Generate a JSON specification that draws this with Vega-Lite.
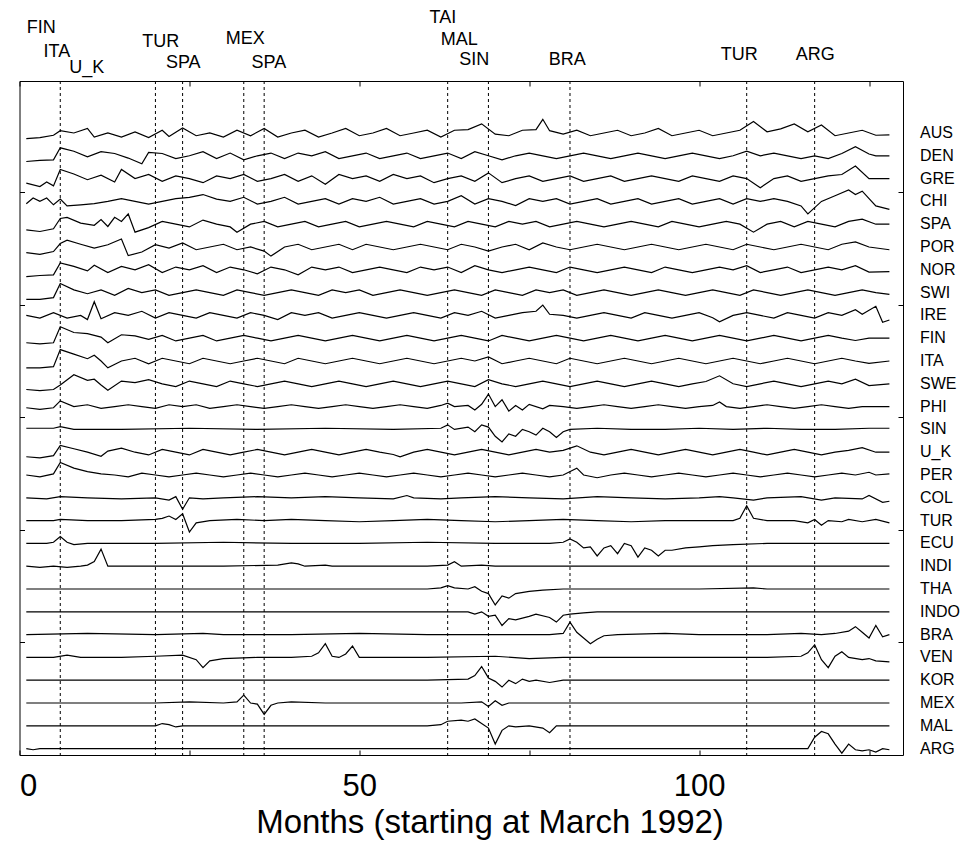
{
"$schema":"https://vega.github.io/schema/vega-lite/v6.json",
"width":883.5,"height":674,
"autosize":{"type":"none"},
"padding":{"left":19.5,"top":81,"right":71,"bottom":86},
"background":"white",
"config":{"view":{"stroke":"black","strokeWidth":1},"font":"Liberation Sans"},
"resolve":{"axis":{"x":"independent","y":"independent"}},
"datasets":{
"events":[{"m":6},{"m":20},{"m":24},{"m":33},{"m":36},{"m":63},{"m":69},{"m":81},{"m":107},{"m":117}],
"tags":[{"t":"FIN","m":3.2,"h":31.61},{"t":"ITA","m":5.5,"h":30.55},{"t":"U_K","m":9.9,"h":29.85},{"t":"TUR","m":20.8,"h":30.99},{"t":"SPA","m":24.1,"h":30.07},{"t":"MEX","m":33.2,"h":31.12},{"t":"SPA","m":36.7,"h":30.07},{"t":"TAI","m":62.3,"h":32.04},{"t":"MAL","m":64.7,"h":31.08},{"t":"SIN","m":66.9,"h":30.2},{"t":"BRA","m":80.6,"h":30.2},{"t":"TUR","m":105.9,"h":30.42},{"t":"ARG","m":117.1,"h":30.42}],
"rows":[{"c":"AUS","r":27},{"c":"DEN","r":26},{"c":"GRE","r":25},{"c":"CHI","r":24},{"c":"SPA","r":23},{"c":"POR","r":22},{"c":"NOR","r":21},{"c":"SWI","r":20},{"c":"IRE","r":19},{"c":"FIN","r":18},{"c":"ITA","r":17},{"c":"SWE","r":16},{"c":"PHI","r":15},{"c":"SIN","r":14},{"c":"U_K","r":13},{"c":"PER","r":12},{"c":"COL","r":11},{"c":"TUR","r":10},{"c":"ECU","r":9},{"c":"INDI","r":8},{"c":"THA","r":7},{"c":"INDO","r":6},{"c":"BRA","r":5},{"c":"VEN","r":4},{"c":"KOR","r":3},{"c":"MEX","r":2},{"c":"MAL","r":1},{"c":"ARG","r":0}],
"series":[
{"c":"AUS","m":1,"v":26.75},{"c":"AUS","m":3,"v":26.8},{"c":"AUS","m":5,"v":26.9},{"c":"AUS","m":6,"v":27.1},{"c":"AUS","m":8,"v":27.0},{"c":"AUS","m":10,"v":27.2},{"c":"AUS","m":11,"v":26.82},{"c":"AUS","m":13,"v":27.0},{"c":"AUS","m":15,"v":26.82},{"c":"AUS","m":17,"v":27.05},{"c":"AUS","m":19,"v":26.8},{"c":"AUS","m":21,"v":27.12},{"c":"AUS","m":22,"v":26.85},{"c":"AUS","m":24,"v":27.22},{"c":"AUS","m":26,"v":26.88},{"c":"AUS","m":28,"v":27.0},{"c":"AUS","m":30,"v":26.82},{"c":"AUS","m":32,"v":27.12},{"c":"AUS","m":34,"v":26.88},{"c":"AUS","m":36,"v":27.2},{"c":"AUS","m":38,"v":26.82},{"c":"AUS","m":40,"v":27.0},{"c":"AUS","m":42,"v":27.12},{"c":"AUS","m":44,"v":26.82},{"c":"AUS","m":46,"v":27.0},{"c":"AUS","m":48,"v":27.2},{"c":"AUS","m":50,"v":26.88},{"c":"AUS","m":52,"v":27.0},{"c":"AUS","m":54,"v":27.2},{"c":"AUS","m":56,"v":26.88},{"c":"AUS","m":58,"v":27.0},{"c":"AUS","m":60,"v":27.12},{"c":"AUS","m":62,"v":26.82},{"c":"AUS","m":64,"v":27.12},{"c":"AUS","m":66,"v":27.15},{"c":"AUS","m":68,"v":27.4},{"c":"AUS","m":70,"v":26.95},{"c":"AUS","m":72,"v":26.88},{"c":"AUS","m":74,"v":27.12},{"c":"AUS","m":76,"v":27.15},{"c":"AUS","m":77,"v":27.6},{"c":"AUS","m":78,"v":27.1},{"c":"AUS","m":80,"v":26.95},{"c":"AUS","m":82,"v":27.12},{"c":"AUS","m":84,"v":26.88},{"c":"AUS","m":86,"v":27.0},{"c":"AUS","m":88,"v":27.12},{"c":"AUS","m":90,"v":26.88},{"c":"AUS","m":92,"v":27.0},{"c":"AUS","m":94,"v":27.2},{"c":"AUS","m":96,"v":26.88},{"c":"AUS","m":98,"v":27.0},{"c":"AUS","m":100,"v":27.12},{"c":"AUS","m":102,"v":26.88},{"c":"AUS","m":104,"v":27.0},{"c":"AUS","m":106,"v":27.12},{"c":"AUS","m":108,"v":27.5},{"c":"AUS","m":110,"v":27.05},{"c":"AUS","m":112,"v":27.18},{"c":"AUS","m":114,"v":27.4},{"c":"AUS","m":116,"v":27.05},{"c":"AUS","m":118,"v":27.35},{"c":"AUS","m":120,"v":26.88},{"c":"AUS","m":122,"v":27.0},{"c":"AUS","m":124,"v":27.12},{"c":"AUS","m":126,"v":26.9},{"c":"AUS","m":128,"v":26.92},
{"c":"DEN","m":1,"v":25.75},{"c":"DEN","m":3,"v":25.8},{"c":"DEN","m":5,"v":25.82},{"c":"DEN","m":6,"v":26.35},{"c":"DEN","m":8,"v":26.2},{"c":"DEN","m":10,"v":25.95},{"c":"DEN","m":12,"v":26.18},{"c":"DEN","m":14,"v":26.1},{"c":"DEN","m":16,"v":25.9},{"c":"DEN","m":18,"v":25.65},{"c":"DEN","m":19,"v":26.15},{"c":"DEN","m":21,"v":26.1},{"c":"DEN","m":23,"v":25.88},{"c":"DEN","m":25,"v":26.0},{"c":"DEN","m":27,"v":26.18},{"c":"DEN","m":29,"v":25.88},{"c":"DEN","m":31,"v":26.12},{"c":"DEN","m":33,"v":25.82},{"c":"DEN","m":35,"v":26.0},{"c":"DEN","m":37,"v":26.12},{"c":"DEN","m":39,"v":25.88},{"c":"DEN","m":41,"v":26.12},{"c":"DEN","m":43,"v":26.0},{"c":"DEN","m":45,"v":26.18},{"c":"DEN","m":47,"v":25.88},{"c":"DEN","m":49,"v":26.0},{"c":"DEN","m":51,"v":26.12},{"c":"DEN","m":53,"v":25.88},{"c":"DEN","m":55,"v":26.0},{"c":"DEN","m":57,"v":26.12},{"c":"DEN","m":59,"v":25.88},{"c":"DEN","m":61,"v":26.0},{"c":"DEN","m":63,"v":26.12},{"c":"DEN","m":65,"v":25.88},{"c":"DEN","m":67,"v":26.18},{"c":"DEN","m":69,"v":26.0},{"c":"DEN","m":71,"v":25.82},{"c":"DEN","m":73,"v":26.0},{"c":"DEN","m":75,"v":26.12},{"c":"DEN","m":77,"v":26.0},{"c":"DEN","m":79,"v":25.88},{"c":"DEN","m":81,"v":26.0},{"c":"DEN","m":83,"v":26.12},{"c":"DEN","m":85,"v":26.0},{"c":"DEN","m":87,"v":25.88},{"c":"DEN","m":89,"v":26.0},{"c":"DEN","m":91,"v":26.12},{"c":"DEN","m":93,"v":26.0},{"c":"DEN","m":95,"v":25.88},{"c":"DEN","m":97,"v":26.0},{"c":"DEN","m":99,"v":26.12},{"c":"DEN","m":101,"v":26.0},{"c":"DEN","m":103,"v":25.88},{"c":"DEN","m":105,"v":26.0},{"c":"DEN","m":107,"v":26.2},{"c":"DEN","m":109,"v":26.0},{"c":"DEN","m":111,"v":26.12},{"c":"DEN","m":113,"v":26.0},{"c":"DEN","m":115,"v":25.88},{"c":"DEN","m":117,"v":26.0},{"c":"DEN","m":119,"v":25.88},{"c":"DEN","m":121,"v":26.1},{"c":"DEN","m":123,"v":26.4},{"c":"DEN","m":125,"v":26.08},{"c":"DEN","m":126,"v":26.0},{"c":"DEN","m":128,"v":26.0},
{"c":"GRE","m":1,"v":24.8},{"c":"GRE","m":3,"v":24.65},{"c":"GRE","m":4,"v":24.85},{"c":"GRE","m":5,"v":24.68},{"c":"GRE","m":6,"v":25.4},{"c":"GRE","m":8,"v":25.2},{"c":"GRE","m":10,"v":24.95},{"c":"GRE","m":12,"v":25.15},{"c":"GRE","m":14,"v":24.85},{"c":"GRE","m":15,"v":25.4},{"c":"GRE","m":17,"v":25.0},{"c":"GRE","m":19,"v":25.18},{"c":"GRE","m":21,"v":24.88},{"c":"GRE","m":23,"v":25.12},{"c":"GRE","m":25,"v":25.0},{"c":"GRE","m":27,"v":24.82},{"c":"GRE","m":29,"v":25.12},{"c":"GRE","m":31,"v":25.0},{"c":"GRE","m":33,"v":25.18},{"c":"GRE","m":35,"v":24.88},{"c":"GRE","m":37,"v":25.0},{"c":"GRE","m":39,"v":25.18},{"c":"GRE","m":41,"v":24.88},{"c":"GRE","m":43,"v":25.12},{"c":"GRE","m":45,"v":24.75},{"c":"GRE","m":47,"v":25.18},{"c":"GRE","m":49,"v":25.0},{"c":"GRE","m":51,"v":25.12},{"c":"GRE","m":53,"v":24.88},{"c":"GRE","m":55,"v":25.18},{"c":"GRE","m":57,"v":25.0},{"c":"GRE","m":59,"v":25.12},{"c":"GRE","m":61,"v":24.82},{"c":"GRE","m":63,"v":25.0},{"c":"GRE","m":65,"v":25.12},{"c":"GRE","m":67,"v":24.88},{"c":"GRE","m":69,"v":25.25},{"c":"GRE","m":71,"v":24.82},{"c":"GRE","m":73,"v":25.0},{"c":"GRE","m":75,"v":25.12},{"c":"GRE","m":77,"v":24.88},{"c":"GRE","m":79,"v":25.0},{"c":"GRE","m":81,"v":25.12},{"c":"GRE","m":83,"v":24.88},{"c":"GRE","m":85,"v":25.0},{"c":"GRE","m":87,"v":25.12},{"c":"GRE","m":89,"v":24.88},{"c":"GRE","m":91,"v":25.0},{"c":"GRE","m":93,"v":25.12},{"c":"GRE","m":95,"v":25.0},{"c":"GRE","m":97,"v":24.88},{"c":"GRE","m":99,"v":25.12},{"c":"GRE","m":101,"v":25.0},{"c":"GRE","m":103,"v":24.88},{"c":"GRE","m":105,"v":25.12},{"c":"GRE","m":107,"v":25.0},{"c":"GRE","m":109,"v":24.6},{"c":"GRE","m":111,"v":25.0},{"c":"GRE","m":113,"v":25.12},{"c":"GRE","m":115,"v":24.88},{"c":"GRE","m":117,"v":25.0},{"c":"GRE","m":119,"v":25.12},{"c":"GRE","m":121,"v":25.18},{"c":"GRE","m":123,"v":25.55},{"c":"GRE","m":125,"v":25.0},{"c":"GRE","m":126,"v":25.0},{"c":"GRE","m":128,"v":25.0},
{"c":"CHI","m":1,"v":23.9},{"c":"CHI","m":2,"v":24.15},{"c":"CHI","m":3,"v":24.0},{"c":"CHI","m":4,"v":24.15},{"c":"CHI","m":5,"v":23.85},{"c":"CHI","m":6,"v":24.1},{"c":"CHI","m":7,"v":23.8},{"c":"CHI","m":9,"v":23.85},{"c":"CHI","m":11,"v":23.9},{"c":"CHI","m":13,"v":24.0},{"c":"CHI","m":15,"v":24.12},{"c":"CHI","m":17,"v":24.0},{"c":"CHI","m":19,"v":23.88},{"c":"CHI","m":21,"v":24.0},{"c":"CHI","m":23,"v":24.12},{"c":"CHI","m":25,"v":24.18},{"c":"CHI","m":27,"v":24.3},{"c":"CHI","m":29,"v":24.1},{"c":"CHI","m":31,"v":24.0},{"c":"CHI","m":33,"v":24.18},{"c":"CHI","m":35,"v":23.88},{"c":"CHI","m":37,"v":24.0},{"c":"CHI","m":39,"v":24.18},{"c":"CHI","m":41,"v":23.88},{"c":"CHI","m":43,"v":24.0},{"c":"CHI","m":45,"v":24.12},{"c":"CHI","m":47,"v":23.88},{"c":"CHI","m":49,"v":24.12},{"c":"CHI","m":51,"v":24.0},{"c":"CHI","m":53,"v":24.18},{"c":"CHI","m":55,"v":23.88},{"c":"CHI","m":57,"v":24.0},{"c":"CHI","m":59,"v":24.12},{"c":"CHI","m":61,"v":23.88},{"c":"CHI","m":63,"v":24.0},{"c":"CHI","m":65,"v":24.25},{"c":"CHI","m":67,"v":23.88},{"c":"CHI","m":69,"v":24.12},{"c":"CHI","m":71,"v":24.0},{"c":"CHI","m":73,"v":23.82},{"c":"CHI","m":75,"v":24.12},{"c":"CHI","m":77,"v":24.0},{"c":"CHI","m":79,"v":24.12},{"c":"CHI","m":81,"v":23.88},{"c":"CHI","m":83,"v":24.0},{"c":"CHI","m":85,"v":24.12},{"c":"CHI","m":87,"v":23.88},{"c":"CHI","m":89,"v":24.0},{"c":"CHI","m":91,"v":24.12},{"c":"CHI","m":93,"v":23.88},{"c":"CHI","m":95,"v":24.0},{"c":"CHI","m":97,"v":24.12},{"c":"CHI","m":99,"v":23.88},{"c":"CHI","m":101,"v":24.0},{"c":"CHI","m":103,"v":24.12},{"c":"CHI","m":105,"v":23.88},{"c":"CHI","m":107,"v":24.12},{"c":"CHI","m":109,"v":24.0},{"c":"CHI","m":111,"v":24.12},{"c":"CHI","m":113,"v":24.0},{"c":"CHI","m":115,"v":23.8},{"c":"CHI","m":116,"v":23.45},{"c":"CHI","m":118,"v":24.0},{"c":"CHI","m":120,"v":24.25},{"c":"CHI","m":122,"v":24.5},{"c":"CHI","m":123,"v":24.3},{"c":"CHI","m":124,"v":24.45},{"c":"CHI","m":126,"v":23.8},{"c":"CHI","m":128,"v":23.65},
{"c":"SPA","m":1,"v":22.75},{"c":"SPA","m":3,"v":22.68},{"c":"SPA","m":5,"v":22.8},{"c":"SPA","m":6,"v":23.25},{"c":"SPA","m":7,"v":23.3},{"c":"SPA","m":9,"v":23.05},{"c":"SPA","m":11,"v":22.95},{"c":"SPA","m":12,"v":23.2},{"c":"SPA","m":13,"v":22.9},{"c":"SPA","m":14,"v":23.3},{"c":"SPA","m":15,"v":23.12},{"c":"SPA","m":16,"v":23.45},{"c":"SPA","m":17,"v":22.65},{"c":"SPA","m":19,"v":22.85},{"c":"SPA","m":21,"v":23.12},{"c":"SPA","m":23,"v":23.0},{"c":"SPA","m":25,"v":22.88},{"c":"SPA","m":27,"v":23.18},{"c":"SPA","m":29,"v":23.0},{"c":"SPA","m":31,"v":22.88},{"c":"SPA","m":32,"v":22.65},{"c":"SPA","m":34,"v":23.0},{"c":"SPA","m":36,"v":23.12},{"c":"SPA","m":38,"v":22.88},{"c":"SPA","m":40,"v":23.0},{"c":"SPA","m":42,"v":23.12},{"c":"SPA","m":44,"v":22.88},{"c":"SPA","m":46,"v":23.0},{"c":"SPA","m":48,"v":23.12},{"c":"SPA","m":50,"v":22.88},{"c":"SPA","m":52,"v":23.0},{"c":"SPA","m":54,"v":23.12},{"c":"SPA","m":56,"v":23.0},{"c":"SPA","m":58,"v":22.88},{"c":"SPA","m":60,"v":23.12},{"c":"SPA","m":62,"v":23.0},{"c":"SPA","m":64,"v":22.88},{"c":"SPA","m":66,"v":23.12},{"c":"SPA","m":68,"v":23.0},{"c":"SPA","m":70,"v":22.88},{"c":"SPA","m":72,"v":23.12},{"c":"SPA","m":74,"v":23.0},{"c":"SPA","m":76,"v":23.12},{"c":"SPA","m":78,"v":22.88},{"c":"SPA","m":80,"v":23.0},{"c":"SPA","m":82,"v":23.12},{"c":"SPA","m":84,"v":23.0},{"c":"SPA","m":86,"v":22.88},{"c":"SPA","m":88,"v":23.0},{"c":"SPA","m":90,"v":23.12},{"c":"SPA","m":92,"v":23.0},{"c":"SPA","m":94,"v":22.88},{"c":"SPA","m":96,"v":23.12},{"c":"SPA","m":98,"v":23.0},{"c":"SPA","m":100,"v":22.88},{"c":"SPA","m":102,"v":23.0},{"c":"SPA","m":104,"v":23.12},{"c":"SPA","m":106,"v":23.0},{"c":"SPA","m":108,"v":22.65},{"c":"SPA","m":110,"v":23.0},{"c":"SPA","m":112,"v":23.12},{"c":"SPA","m":114,"v":22.88},{"c":"SPA","m":116,"v":23.12},{"c":"SPA","m":118,"v":23.0},{"c":"SPA","m":120,"v":22.88},{"c":"SPA","m":122,"v":23.12},{"c":"SPA","m":124,"v":23.22},{"c":"SPA","m":126,"v":23.0},{"c":"SPA","m":128,"v":23.0},
{"c":"POR","m":1,"v":21.75},{"c":"POR","m":3,"v":21.68},{"c":"POR","m":5,"v":21.8},{"c":"POR","m":6,"v":22.15},{"c":"POR","m":7,"v":22.3},{"c":"POR","m":9,"v":22.12},{"c":"POR","m":11,"v":21.95},{"c":"POR","m":13,"v":22.1},{"c":"POR","m":15,"v":22.35},{"c":"POR","m":16,"v":21.62},{"c":"POR","m":18,"v":21.78},{"c":"POR","m":20,"v":22.1},{"c":"POR","m":22,"v":21.95},{"c":"POR","m":24,"v":22.18},{"c":"POR","m":26,"v":21.88},{"c":"POR","m":28,"v":22.0},{"c":"POR","m":30,"v":22.12},{"c":"POR","m":32,"v":21.88},{"c":"POR","m":34,"v":22.0},{"c":"POR","m":36,"v":21.82},{"c":"POR","m":37,"v":21.6},{"c":"POR","m":39,"v":22.0},{"c":"POR","m":41,"v":22.12},{"c":"POR","m":43,"v":21.88},{"c":"POR","m":45,"v":22.0},{"c":"POR","m":47,"v":22.12},{"c":"POR","m":49,"v":21.88},{"c":"POR","m":51,"v":22.12},{"c":"POR","m":53,"v":22.0},{"c":"POR","m":55,"v":21.88},{"c":"POR","m":57,"v":22.0},{"c":"POR","m":59,"v":22.12},{"c":"POR","m":61,"v":22.0},{"c":"POR","m":63,"v":21.88},{"c":"POR","m":65,"v":22.12},{"c":"POR","m":67,"v":22.0},{"c":"POR","m":69,"v":21.82},{"c":"POR","m":71,"v":22.0},{"c":"POR","m":73,"v":22.12},{"c":"POR","m":75,"v":21.88},{"c":"POR","m":77,"v":22.18},{"c":"POR","m":79,"v":22.0},{"c":"POR","m":81,"v":21.88},{"c":"POR","m":83,"v":22.0},{"c":"POR","m":85,"v":22.12},{"c":"POR","m":87,"v":22.0},{"c":"POR","m":89,"v":21.88},{"c":"POR","m":91,"v":22.0},{"c":"POR","m":93,"v":22.12},{"c":"POR","m":95,"v":22.0},{"c":"POR","m":97,"v":21.88},{"c":"POR","m":99,"v":22.0},{"c":"POR","m":101,"v":22.12},{"c":"POR","m":103,"v":22.0},{"c":"POR","m":105,"v":21.88},{"c":"POR","m":107,"v":22.12},{"c":"POR","m":109,"v":22.0},{"c":"POR","m":111,"v":21.88},{"c":"POR","m":113,"v":22.0},{"c":"POR","m":115,"v":22.12},{"c":"POR","m":117,"v":22.0},{"c":"POR","m":119,"v":21.88},{"c":"POR","m":121,"v":22.12},{"c":"POR","m":123,"v":22.22},{"c":"POR","m":125,"v":22.0},{"c":"POR","m":128,"v":21.88},
{"c":"NOR","m":1,"v":20.7},{"c":"NOR","m":3,"v":20.75},{"c":"NOR","m":5,"v":20.78},{"c":"NOR","m":6,"v":21.3},{"c":"NOR","m":8,"v":21.15},{"c":"NOR","m":10,"v":20.95},{"c":"NOR","m":11,"v":21.2},{"c":"NOR","m":13,"v":20.88},{"c":"NOR","m":15,"v":21.15},{"c":"NOR","m":17,"v":21.0},{"c":"NOR","m":19,"v":21.22},{"c":"NOR","m":21,"v":20.88},{"c":"NOR","m":23,"v":21.12},{"c":"NOR","m":25,"v":21.0},{"c":"NOR","m":27,"v":21.18},{"c":"NOR","m":29,"v":20.88},{"c":"NOR","m":31,"v":21.12},{"c":"NOR","m":33,"v":21.0},{"c":"NOR","m":35,"v":20.82},{"c":"NOR","m":37,"v":21.12},{"c":"NOR","m":39,"v":21.0},{"c":"NOR","m":41,"v":20.78},{"c":"NOR","m":43,"v":21.12},{"c":"NOR","m":45,"v":21.0},{"c":"NOR","m":47,"v":21.12},{"c":"NOR","m":49,"v":20.88},{"c":"NOR","m":51,"v":21.0},{"c":"NOR","m":53,"v":21.12},{"c":"NOR","m":55,"v":21.0},{"c":"NOR","m":57,"v":20.88},{"c":"NOR","m":59,"v":21.12},{"c":"NOR","m":61,"v":21.0},{"c":"NOR","m":63,"v":21.12},{"c":"NOR","m":65,"v":20.88},{"c":"NOR","m":67,"v":21.18},{"c":"NOR","m":69,"v":21.0},{"c":"NOR","m":71,"v":20.88},{"c":"NOR","m":73,"v":21.0},{"c":"NOR","m":75,"v":21.12},{"c":"NOR","m":77,"v":21.0},{"c":"NOR","m":79,"v":20.88},{"c":"NOR","m":81,"v":21.12},{"c":"NOR","m":83,"v":21.0},{"c":"NOR","m":85,"v":20.88},{"c":"NOR","m":87,"v":21.0},{"c":"NOR","m":89,"v":21.12},{"c":"NOR","m":91,"v":21.0},{"c":"NOR","m":93,"v":20.88},{"c":"NOR","m":95,"v":21.12},{"c":"NOR","m":97,"v":21.0},{"c":"NOR","m":99,"v":20.88},{"c":"NOR","m":101,"v":21.0},{"c":"NOR","m":103,"v":21.12},{"c":"NOR","m":105,"v":21.0},{"c":"NOR","m":107,"v":21.18},{"c":"NOR","m":109,"v":20.88},{"c":"NOR","m":111,"v":21.0},{"c":"NOR","m":113,"v":21.12},{"c":"NOR","m":115,"v":20.88},{"c":"NOR","m":117,"v":21.0},{"c":"NOR","m":119,"v":21.12},{"c":"NOR","m":121,"v":21.0},{"c":"NOR","m":123,"v":21.18},{"c":"NOR","m":125,"v":20.9},{"c":"NOR","m":128,"v":20.92},
{"c":"SWI","m":1,"v":19.7},{"c":"SWI","m":3,"v":19.7},{"c":"SWI","m":5,"v":19.78},{"c":"SWI","m":6,"v":20.4},{"c":"SWI","m":8,"v":20.12},{"c":"SWI","m":10,"v":19.95},{"c":"SWI","m":12,"v":20.12},{"c":"SWI","m":14,"v":19.88},{"c":"SWI","m":16,"v":20.18},{"c":"SWI","m":18,"v":20.0},{"c":"SWI","m":20,"v":20.12},{"c":"SWI","m":22,"v":19.88},{"c":"SWI","m":24,"v":20.0},{"c":"SWI","m":26,"v":20.12},{"c":"SWI","m":28,"v":20.0},{"c":"SWI","m":30,"v":19.88},{"c":"SWI","m":32,"v":20.12},{"c":"SWI","m":34,"v":20.0},{"c":"SWI","m":36,"v":19.88},{"c":"SWI","m":38,"v":20.0},{"c":"SWI","m":40,"v":20.12},{"c":"SWI","m":42,"v":20.0},{"c":"SWI","m":44,"v":19.88},{"c":"SWI","m":46,"v":20.12},{"c":"SWI","m":48,"v":20.0},{"c":"SWI","m":50,"v":20.12},{"c":"SWI","m":52,"v":19.88},{"c":"SWI","m":54,"v":20.0},{"c":"SWI","m":56,"v":20.12},{"c":"SWI","m":58,"v":20.0},{"c":"SWI","m":60,"v":19.88},{"c":"SWI","m":62,"v":20.0},{"c":"SWI","m":64,"v":20.12},{"c":"SWI","m":66,"v":20.0},{"c":"SWI","m":68,"v":19.88},{"c":"SWI","m":70,"v":20.12},{"c":"SWI","m":72,"v":20.0},{"c":"SWI","m":74,"v":19.88},{"c":"SWI","m":76,"v":20.12},{"c":"SWI","m":78,"v":20.0},{"c":"SWI","m":80,"v":20.12},{"c":"SWI","m":82,"v":19.88},{"c":"SWI","m":84,"v":20.0},{"c":"SWI","m":86,"v":20.12},{"c":"SWI","m":88,"v":20.0},{"c":"SWI","m":90,"v":19.88},{"c":"SWI","m":92,"v":20.0},{"c":"SWI","m":94,"v":20.12},{"c":"SWI","m":96,"v":20.0},{"c":"SWI","m":98,"v":19.88},{"c":"SWI","m":100,"v":20.0},{"c":"SWI","m":102,"v":20.12},{"c":"SWI","m":104,"v":20.0},{"c":"SWI","m":106,"v":19.88},{"c":"SWI","m":108,"v":20.12},{"c":"SWI","m":110,"v":20.0},{"c":"SWI","m":112,"v":19.88},{"c":"SWI","m":114,"v":20.0},{"c":"SWI","m":116,"v":20.12},{"c":"SWI","m":118,"v":20.0},{"c":"SWI","m":120,"v":19.88},{"c":"SWI","m":122,"v":20.0},{"c":"SWI","m":124,"v":20.12},{"c":"SWI","m":126,"v":20.0},{"c":"SWI","m":128,"v":19.92},
{"c":"IRE","m":1,"v":19.0},{"c":"IRE","m":3,"v":18.88},{"c":"IRE","m":5,"v":19.12},{"c":"IRE","m":7,"v":18.88},{"c":"IRE","m":9,"v":19.0},{"c":"IRE","m":10,"v":18.82},{"c":"IRE","m":11,"v":19.6},{"c":"IRE","m":12,"v":18.85},{"c":"IRE","m":14,"v":19.12},{"c":"IRE","m":16,"v":19.0},{"c":"IRE","m":18,"v":19.18},{"c":"IRE","m":20,"v":18.88},{"c":"IRE","m":22,"v":19.12},{"c":"IRE","m":24,"v":19.0},{"c":"IRE","m":26,"v":18.88},{"c":"IRE","m":28,"v":19.12},{"c":"IRE","m":30,"v":19.0},{"c":"IRE","m":32,"v":18.88},{"c":"IRE","m":34,"v":19.12},{"c":"IRE","m":36,"v":19.0},{"c":"IRE","m":38,"v":18.82},{"c":"IRE","m":40,"v":19.12},{"c":"IRE","m":42,"v":19.0},{"c":"IRE","m":44,"v":19.12},{"c":"IRE","m":46,"v":18.88},{"c":"IRE","m":48,"v":19.0},{"c":"IRE","m":50,"v":19.12},{"c":"IRE","m":52,"v":19.0},{"c":"IRE","m":54,"v":18.88},{"c":"IRE","m":56,"v":19.0},{"c":"IRE","m":58,"v":19.12},{"c":"IRE","m":60,"v":19.0},{"c":"IRE","m":62,"v":18.88},{"c":"IRE","m":64,"v":19.12},{"c":"IRE","m":66,"v":19.0},{"c":"IRE","m":68,"v":19.18},{"c":"IRE","m":70,"v":18.88},{"c":"IRE","m":72,"v":19.0},{"c":"IRE","m":74,"v":19.12},{"c":"IRE","m":76,"v":19.18},{"c":"IRE","m":77,"v":19.45},{"c":"IRE","m":78,"v":19.05},{"c":"IRE","m":80,"v":19.0},{"c":"IRE","m":82,"v":18.88},{"c":"IRE","m":84,"v":19.0},{"c":"IRE","m":86,"v":19.12},{"c":"IRE","m":88,"v":19.0},{"c":"IRE","m":90,"v":18.88},{"c":"IRE","m":92,"v":19.12},{"c":"IRE","m":94,"v":19.0},{"c":"IRE","m":96,"v":18.88},{"c":"IRE","m":98,"v":19.0},{"c":"IRE","m":100,"v":19.12},{"c":"IRE","m":102,"v":18.9},{"c":"IRE","m":103,"v":18.72},{"c":"IRE","m":105,"v":19.0},{"c":"IRE","m":107,"v":19.12},{"c":"IRE","m":109,"v":19.0},{"c":"IRE","m":111,"v":18.88},{"c":"IRE","m":113,"v":19.12},{"c":"IRE","m":115,"v":19.0},{"c":"IRE","m":117,"v":18.88},{"c":"IRE","m":119,"v":19.12},{"c":"IRE","m":121,"v":19.0},{"c":"IRE","m":123,"v":19.25},{"c":"IRE","m":124,"v":19.05},{"c":"IRE","m":126,"v":19.4},{"c":"IRE","m":127,"v":18.7},{"c":"IRE","m":128,"v":18.8},
{"c":"FIN","m":1,"v":17.8},{"c":"FIN","m":3,"v":17.75},{"c":"FIN","m":5,"v":17.8},{"c":"FIN","m":6,"v":18.5},{"c":"FIN","m":8,"v":18.25},{"c":"FIN","m":10,"v":18.2},{"c":"FIN","m":12,"v":18.05},{"c":"FIN","m":13,"v":17.8},{"c":"FIN","m":15,"v":18.15},{"c":"FIN","m":17,"v":18.1},{"c":"FIN","m":19,"v":17.95},{"c":"FIN","m":21,"v":18.12},{"c":"FIN","m":23,"v":17.88},{"c":"FIN","m":25,"v":18.0},{"c":"FIN","m":27,"v":18.12},{"c":"FIN","m":29,"v":17.88},{"c":"FIN","m":31,"v":18.0},{"c":"FIN","m":33,"v":18.12},{"c":"FIN","m":35,"v":18.0},{"c":"FIN","m":37,"v":17.88},{"c":"FIN","m":39,"v":18.0},{"c":"FIN","m":41,"v":18.12},{"c":"FIN","m":43,"v":18.0},{"c":"FIN","m":45,"v":17.88},{"c":"FIN","m":47,"v":18.0},{"c":"FIN","m":49,"v":18.12},{"c":"FIN","m":51,"v":18.0},{"c":"FIN","m":53,"v":17.88},{"c":"FIN","m":55,"v":18.0},{"c":"FIN","m":57,"v":18.12},{"c":"FIN","m":59,"v":18.0},{"c":"FIN","m":61,"v":17.88},{"c":"FIN","m":63,"v":18.0},{"c":"FIN","m":65,"v":18.12},{"c":"FIN","m":67,"v":18.0},{"c":"FIN","m":69,"v":17.88},{"c":"FIN","m":71,"v":18.12},{"c":"FIN","m":73,"v":18.0},{"c":"FIN","m":75,"v":17.88},{"c":"FIN","m":77,"v":18.0},{"c":"FIN","m":79,"v":18.12},{"c":"FIN","m":81,"v":18.0},{"c":"FIN","m":83,"v":17.88},{"c":"FIN","m":85,"v":18.0},{"c":"FIN","m":87,"v":18.12},{"c":"FIN","m":89,"v":18.0},{"c":"FIN","m":91,"v":17.88},{"c":"FIN","m":93,"v":18.0},{"c":"FIN","m":95,"v":18.12},{"c":"FIN","m":97,"v":18.0},{"c":"FIN","m":99,"v":17.88},{"c":"FIN","m":101,"v":18.0},{"c":"FIN","m":103,"v":18.12},{"c":"FIN","m":105,"v":18.0},{"c":"FIN","m":107,"v":17.88},{"c":"FIN","m":109,"v":18.0},{"c":"FIN","m":111,"v":18.12},{"c":"FIN","m":113,"v":18.0},{"c":"FIN","m":115,"v":17.88},{"c":"FIN","m":117,"v":18.0},{"c":"FIN","m":119,"v":18.12},{"c":"FIN","m":121,"v":18.0},{"c":"FIN","m":123,"v":17.9},{"c":"FIN","m":125,"v":18.0},{"c":"FIN","m":128,"v":18.0},
{"c":"ITA","m":1,"v":16.7},{"c":"ITA","m":3,"v":16.7},{"c":"ITA","m":5,"v":16.75},{"c":"ITA","m":6,"v":17.5},{"c":"ITA","m":8,"v":17.3},{"c":"ITA","m":10,"v":17.1},{"c":"ITA","m":11,"v":17.25},{"c":"ITA","m":12,"v":17.0},{"c":"ITA","m":13,"v":16.7},{"c":"ITA","m":15,"v":17.0},{"c":"ITA","m":17,"v":17.12},{"c":"ITA","m":19,"v":16.88},{"c":"ITA","m":21,"v":17.12},{"c":"ITA","m":23,"v":17.0},{"c":"ITA","m":25,"v":16.88},{"c":"ITA","m":27,"v":17.12},{"c":"ITA","m":29,"v":17.0},{"c":"ITA","m":31,"v":16.88},{"c":"ITA","m":33,"v":17.0},{"c":"ITA","m":35,"v":17.12},{"c":"ITA","m":37,"v":17.0},{"c":"ITA","m":39,"v":16.88},{"c":"ITA","m":41,"v":17.12},{"c":"ITA","m":43,"v":17.0},{"c":"ITA","m":45,"v":16.88},{"c":"ITA","m":47,"v":17.0},{"c":"ITA","m":49,"v":17.12},{"c":"ITA","m":51,"v":17.0},{"c":"ITA","m":53,"v":16.88},{"c":"ITA","m":55,"v":17.0},{"c":"ITA","m":57,"v":17.12},{"c":"ITA","m":59,"v":17.0},{"c":"ITA","m":61,"v":16.88},{"c":"ITA","m":63,"v":17.0},{"c":"ITA","m":65,"v":17.12},{"c":"ITA","m":67,"v":17.0},{"c":"ITA","m":69,"v":17.18},{"c":"ITA","m":71,"v":16.88},{"c":"ITA","m":73,"v":17.0},{"c":"ITA","m":75,"v":17.12},{"c":"ITA","m":77,"v":17.0},{"c":"ITA","m":79,"v":16.88},{"c":"ITA","m":81,"v":17.12},{"c":"ITA","m":83,"v":17.0},{"c":"ITA","m":85,"v":16.88},{"c":"ITA","m":87,"v":17.0},{"c":"ITA","m":89,"v":17.12},{"c":"ITA","m":91,"v":17.0},{"c":"ITA","m":93,"v":16.88},{"c":"ITA","m":95,"v":17.0},{"c":"ITA","m":97,"v":17.12},{"c":"ITA","m":99,"v":17.0},{"c":"ITA","m":101,"v":16.88},{"c":"ITA","m":103,"v":17.0},{"c":"ITA","m":105,"v":17.12},{"c":"ITA","m":107,"v":17.0},{"c":"ITA","m":109,"v":16.88},{"c":"ITA","m":111,"v":17.0},{"c":"ITA","m":113,"v":17.12},{"c":"ITA","m":115,"v":17.0},{"c":"ITA","m":117,"v":16.88},{"c":"ITA","m":119,"v":17.0},{"c":"ITA","m":121,"v":17.12},{"c":"ITA","m":123,"v":17.0},{"c":"ITA","m":125,"v":16.9},{"c":"ITA","m":128,"v":17.0},
{"c":"SWE","m":1,"v":15.75},{"c":"SWE","m":3,"v":15.7},{"c":"SWE","m":5,"v":15.75},{"c":"SWE","m":6,"v":15.95},{"c":"SWE","m":8,"v":16.4},{"c":"SWE","m":10,"v":16.15},{"c":"SWE","m":11,"v":16.2},{"c":"SWE","m":12,"v":15.95},{"c":"SWE","m":13,"v":15.72},{"c":"SWE","m":15,"v":16.12},{"c":"SWE","m":17,"v":16.05},{"c":"SWE","m":19,"v":16.18},{"c":"SWE","m":21,"v":16.0},{"c":"SWE","m":23,"v":15.88},{"c":"SWE","m":25,"v":16.12},{"c":"SWE","m":27,"v":16.0},{"c":"SWE","m":29,"v":15.88},{"c":"SWE","m":31,"v":16.12},{"c":"SWE","m":33,"v":16.0},{"c":"SWE","m":35,"v":15.88},{"c":"SWE","m":37,"v":16.0},{"c":"SWE","m":39,"v":16.12},{"c":"SWE","m":41,"v":16.0},{"c":"SWE","m":43,"v":15.88},{"c":"SWE","m":45,"v":16.0},{"c":"SWE","m":47,"v":16.12},{"c":"SWE","m":49,"v":16.0},{"c":"SWE","m":51,"v":15.88},{"c":"SWE","m":53,"v":16.0},{"c":"SWE","m":55,"v":16.12},{"c":"SWE","m":57,"v":16.0},{"c":"SWE","m":59,"v":15.88},{"c":"SWE","m":61,"v":16.0},{"c":"SWE","m":63,"v":16.12},{"c":"SWE","m":65,"v":16.0},{"c":"SWE","m":67,"v":15.88},{"c":"SWE","m":69,"v":16.18},{"c":"SWE","m":71,"v":16.0},{"c":"SWE","m":73,"v":15.88},{"c":"SWE","m":75,"v":16.0},{"c":"SWE","m":77,"v":16.12},{"c":"SWE","m":79,"v":16.0},{"c":"SWE","m":81,"v":15.88},{"c":"SWE","m":83,"v":16.0},{"c":"SWE","m":85,"v":16.12},{"c":"SWE","m":87,"v":16.0},{"c":"SWE","m":89,"v":15.88},{"c":"SWE","m":91,"v":16.0},{"c":"SWE","m":93,"v":16.12},{"c":"SWE","m":95,"v":16.0},{"c":"SWE","m":97,"v":15.88},{"c":"SWE","m":99,"v":16.0},{"c":"SWE","m":101,"v":16.1},{"c":"SWE","m":103,"v":16.35},{"c":"SWE","m":105,"v":16.0},{"c":"SWE","m":107,"v":15.88},{"c":"SWE","m":109,"v":16.0},{"c":"SWE","m":111,"v":16.12},{"c":"SWE","m":113,"v":16.0},{"c":"SWE","m":115,"v":15.88},{"c":"SWE","m":117,"v":16.0},{"c":"SWE","m":119,"v":16.12},{"c":"SWE","m":121,"v":16.0},{"c":"SWE","m":123,"v":16.2},{"c":"SWE","m":125,"v":15.92},{"c":"SWE","m":128,"v":16.0},
{"c":"PHI","m":1,"v":14.95},{"c":"PHI","m":3,"v":14.88},{"c":"PHI","m":5,"v":14.95},{"c":"PHI","m":6,"v":15.25},{"c":"PHI","m":8,"v":15.0},{"c":"PHI","m":10,"v":15.08},{"c":"PHI","m":12,"v":14.92},{"c":"PHI","m":14,"v":15.0},{"c":"PHI","m":16,"v":15.08},{"c":"PHI","m":18,"v":15.0},{"c":"PHI","m":20,"v":14.92},{"c":"PHI","m":22,"v":15.08},{"c":"PHI","m":24,"v":15.0},{"c":"PHI","m":26,"v":15.08},{"c":"PHI","m":28,"v":14.92},{"c":"PHI","m":30,"v":15.0},{"c":"PHI","m":32,"v":15.08},{"c":"PHI","m":34,"v":15.0},{"c":"PHI","m":36,"v":14.92},{"c":"PHI","m":38,"v":15.0},{"c":"PHI","m":40,"v":15.08},{"c":"PHI","m":42,"v":15.0},{"c":"PHI","m":44,"v":14.92},{"c":"PHI","m":46,"v":15.0},{"c":"PHI","m":48,"v":15.08},{"c":"PHI","m":50,"v":15.0},{"c":"PHI","m":52,"v":14.92},{"c":"PHI","m":54,"v":15.0},{"c":"PHI","m":56,"v":15.08},{"c":"PHI","m":58,"v":15.0},{"c":"PHI","m":60,"v":14.92},{"c":"PHI","m":62,"v":15.05},{"c":"PHI","m":63,"v":15.15},{"c":"PHI","m":64,"v":15.0},{"c":"PHI","m":66,"v":15.05},{"c":"PHI","m":67,"v":14.85},{"c":"PHI","m":68,"v":15.1},{"c":"PHI","m":69,"v":15.55},{"c":"PHI","m":70,"v":15.0},{"c":"PHI","m":71,"v":15.3},{"c":"PHI","m":72,"v":14.8},{"c":"PHI","m":73,"v":15.05},{"c":"PHI","m":74,"v":14.85},{"c":"PHI","m":75,"v":15.1},{"c":"PHI","m":77,"v":14.9},{"c":"PHI","m":78,"v":15.05},{"c":"PHI","m":80,"v":15.0},{"c":"PHI","m":82,"v":14.92},{"c":"PHI","m":84,"v":15.0},{"c":"PHI","m":86,"v":15.08},{"c":"PHI","m":88,"v":15.0},{"c":"PHI","m":90,"v":14.92},{"c":"PHI","m":92,"v":15.0},{"c":"PHI","m":94,"v":15.08},{"c":"PHI","m":96,"v":15.0},{"c":"PHI","m":98,"v":14.92},{"c":"PHI","m":100,"v":15.0},{"c":"PHI","m":102,"v":15.05},{"c":"PHI","m":103,"v":15.2},{"c":"PHI","m":104,"v":15.0},{"c":"PHI","m":106,"v":14.92},{"c":"PHI","m":108,"v":15.0},{"c":"PHI","m":110,"v":15.08},{"c":"PHI","m":112,"v":15.0},{"c":"PHI","m":114,"v":14.92},{"c":"PHI","m":116,"v":15.0},{"c":"PHI","m":118,"v":15.08},{"c":"PHI","m":120,"v":15.0},{"c":"PHI","m":122,"v":14.92},{"c":"PHI","m":124,"v":15.0},{"c":"PHI","m":128,"v":15.0},
{"c":"SIN","m":1,"v":14.05},{"c":"SIN","m":5,"v":14.05},{"c":"SIN","m":6,"v":14.12},{"c":"SIN","m":8,"v":14.0},{"c":"SIN","m":15,"v":14.0},{"c":"SIN","m":25,"v":14.05},{"c":"SIN","m":35,"v":14.0},{"c":"SIN","m":45,"v":14.05},{"c":"SIN","m":55,"v":14.0},{"c":"SIN","m":62,"v":14.05},{"c":"SIN","m":63,"v":14.2},{"c":"SIN","m":64,"v":14.0},{"c":"SIN","m":66,"v":14.1},{"c":"SIN","m":67,"v":13.9},{"c":"SIN","m":68,"v":14.2},{"c":"SIN","m":69,"v":14.1},{"c":"SIN","m":70,"v":13.7},{"c":"SIN","m":71,"v":13.45},{"c":"SIN","m":72,"v":13.8},{"c":"SIN","m":73,"v":13.7},{"c":"SIN","m":74,"v":14.0},{"c":"SIN","m":75,"v":13.9},{"c":"SIN","m":76,"v":13.75},{"c":"SIN","m":77,"v":14.05},{"c":"SIN","m":78,"v":13.9},{"c":"SIN","m":79,"v":13.65},{"c":"SIN","m":80,"v":13.9},{"c":"SIN","m":81,"v":14.0},{"c":"SIN","m":85,"v":14.05},{"c":"SIN","m":90,"v":14.0},{"c":"SIN","m":95,"v":14.0},{"c":"SIN","m":100,"v":14.05},{"c":"SIN","m":105,"v":14.0},{"c":"SIN","m":110,"v":14.05},{"c":"SIN","m":115,"v":14.0},{"c":"SIN","m":120,"v":14.0},{"c":"SIN","m":125,"v":14.05},{"c":"SIN","m":128,"v":14.05},
{"c":"U_K","m":1,"v":12.8},{"c":"U_K","m":3,"v":12.75},{"c":"U_K","m":5,"v":12.85},{"c":"U_K","m":6,"v":13.3},{"c":"U_K","m":8,"v":13.15},{"c":"U_K","m":10,"v":13.0},{"c":"U_K","m":12,"v":12.82},{"c":"U_K","m":13,"v":13.05},{"c":"U_K","m":15,"v":13.18},{"c":"U_K","m":17,"v":13.0},{"c":"U_K","m":19,"v":12.88},{"c":"U_K","m":21,"v":13.12},{"c":"U_K","m":23,"v":13.0},{"c":"U_K","m":25,"v":12.88},{"c":"U_K","m":27,"v":13.12},{"c":"U_K","m":29,"v":13.0},{"c":"U_K","m":31,"v":12.88},{"c":"U_K","m":33,"v":13.0},{"c":"U_K","m":35,"v":13.12},{"c":"U_K","m":37,"v":13.0},{"c":"U_K","m":39,"v":12.88},{"c":"U_K","m":41,"v":13.0},{"c":"U_K","m":43,"v":13.12},{"c":"U_K","m":45,"v":13.0},{"c":"U_K","m":47,"v":12.88},{"c":"U_K","m":49,"v":13.0},{"c":"U_K","m":51,"v":13.12},{"c":"U_K","m":53,"v":13.0},{"c":"U_K","m":55,"v":12.9},{"c":"U_K","m":56,"v":12.8},{"c":"U_K","m":58,"v":13.0},{"c":"U_K","m":60,"v":13.12},{"c":"U_K","m":62,"v":13.0},{"c":"U_K","m":64,"v":12.88},{"c":"U_K","m":66,"v":13.0},{"c":"U_K","m":68,"v":13.12},{"c":"U_K","m":70,"v":13.0},{"c":"U_K","m":72,"v":12.88},{"c":"U_K","m":74,"v":13.0},{"c":"U_K","m":76,"v":13.12},{"c":"U_K","m":78,"v":13.0},{"c":"U_K","m":80,"v":13.08},{"c":"U_K","m":82,"v":13.28},{"c":"U_K","m":84,"v":13.0},{"c":"U_K","m":86,"v":12.88},{"c":"U_K","m":88,"v":13.0},{"c":"U_K","m":90,"v":13.12},{"c":"U_K","m":92,"v":13.0},{"c":"U_K","m":94,"v":12.88},{"c":"U_K","m":96,"v":13.0},{"c":"U_K","m":98,"v":13.12},{"c":"U_K","m":100,"v":13.0},{"c":"U_K","m":102,"v":12.88},{"c":"U_K","m":104,"v":13.0},{"c":"U_K","m":106,"v":13.12},{"c":"U_K","m":108,"v":13.0},{"c":"U_K","m":110,"v":12.88},{"c":"U_K","m":112,"v":13.0},{"c":"U_K","m":114,"v":13.12},{"c":"U_K","m":116,"v":13.0},{"c":"U_K","m":118,"v":12.88},{"c":"U_K","m":120,"v":13.0},{"c":"U_K","m":122,"v":13.08},{"c":"U_K","m":124,"v":13.2},{"c":"U_K","m":126,"v":13.0},{"c":"U_K","m":128,"v":13.0},
{"c":"PER","m":1,"v":12.0},{"c":"PER","m":3,"v":11.92},{"c":"PER","m":5,"v":12.05},{"c":"PER","m":6,"v":12.55},{"c":"PER","m":8,"v":12.3},{"c":"PER","m":10,"v":12.15},{"c":"PER","m":12,"v":12.05},{"c":"PER","m":14,"v":12.0},{"c":"PER","m":16,"v":11.92},{"c":"PER","m":18,"v":12.08},{"c":"PER","m":20,"v":12.0},{"c":"PER","m":22,"v":11.92},{"c":"PER","m":24,"v":12.0},{"c":"PER","m":26,"v":12.08},{"c":"PER","m":28,"v":12.0},{"c":"PER","m":30,"v":11.92},{"c":"PER","m":32,"v":12.0},{"c":"PER","m":34,"v":12.08},{"c":"PER","m":36,"v":12.0},{"c":"PER","m":38,"v":11.92},{"c":"PER","m":40,"v":12.0},{"c":"PER","m":42,"v":12.08},{"c":"PER","m":44,"v":12.0},{"c":"PER","m":46,"v":11.92},{"c":"PER","m":48,"v":12.0},{"c":"PER","m":50,"v":12.08},{"c":"PER","m":52,"v":12.0},{"c":"PER","m":54,"v":11.92},{"c":"PER","m":56,"v":12.0},{"c":"PER","m":58,"v":12.08},{"c":"PER","m":60,"v":12.0},{"c":"PER","m":62,"v":11.92},{"c":"PER","m":64,"v":12.0},{"c":"PER","m":66,"v":12.08},{"c":"PER","m":68,"v":12.0},{"c":"PER","m":70,"v":11.92},{"c":"PER","m":72,"v":12.0},{"c":"PER","m":74,"v":12.08},{"c":"PER","m":76,"v":12.0},{"c":"PER","m":78,"v":11.92},{"c":"PER","m":80,"v":12.0},{"c":"PER","m":82,"v":12.3},{"c":"PER","m":83,"v":12.0},{"c":"PER","m":85,"v":11.88},{"c":"PER","m":87,"v":12.0},{"c":"PER","m":89,"v":12.08},{"c":"PER","m":91,"v":12.0},{"c":"PER","m":93,"v":11.92},{"c":"PER","m":95,"v":12.0},{"c":"PER","m":97,"v":12.08},{"c":"PER","m":99,"v":12.0},{"c":"PER","m":101,"v":11.92},{"c":"PER","m":103,"v":12.0},{"c":"PER","m":105,"v":12.08},{"c":"PER","m":107,"v":12.0},{"c":"PER","m":109,"v":11.92},{"c":"PER","m":111,"v":12.0},{"c":"PER","m":113,"v":12.08},{"c":"PER","m":115,"v":12.0},{"c":"PER","m":117,"v":11.92},{"c":"PER","m":119,"v":12.0},{"c":"PER","m":121,"v":12.08},{"c":"PER","m":123,"v":12.0},{"c":"PER","m":125,"v":12.12},{"c":"PER","m":126,"v":12.0},{"c":"PER","m":128,"v":12.05},
{"c":"COL","m":1,"v":11.0},{"c":"COL","m":4,"v":10.95},{"c":"COL","m":6,"v":11.05},{"c":"COL","m":10,"v":11.0},{"c":"COL","m":15,"v":10.95},{"c":"COL","m":20,"v":11.0},{"c":"COL","m":22,"v":10.9},{"c":"COL","m":23,"v":11.05},{"c":"COL","m":24,"v":10.5},{"c":"COL","m":25,"v":11.0},{"c":"COL","m":27,"v":10.95},{"c":"COL","m":30,"v":11.0},{"c":"COL","m":35,"v":11.05},{"c":"COL","m":40,"v":11.0},{"c":"COL","m":45,"v":11.05},{"c":"COL","m":50,"v":11.0},{"c":"COL","m":55,"v":10.95},{"c":"COL","m":57,"v":11.1},{"c":"COL","m":58,"v":11.0},{"c":"COL","m":62,"v":10.95},{"c":"COL","m":65,"v":11.0},{"c":"COL","m":70,"v":11.05},{"c":"COL","m":75,"v":11.0},{"c":"COL","m":80,"v":10.95},{"c":"COL","m":85,"v":11.05},{"c":"COL","m":90,"v":11.0},{"c":"COL","m":95,"v":10.95},{"c":"COL","m":100,"v":11.0},{"c":"COL","m":103,"v":11.05},{"c":"COL","m":105,"v":11.0},{"c":"COL","m":108,"v":10.9},{"c":"COL","m":110,"v":11.0},{"c":"COL","m":115,"v":11.05},{"c":"COL","m":118,"v":10.9},{"c":"COL","m":120,"v":11.0},{"c":"COL","m":124,"v":10.95},{"c":"COL","m":125,"v":11.1},{"c":"COL","m":127,"v":10.8},{"c":"COL","m":128,"v":10.85},
{"c":"TUR","m":1,"v":10.0},{"c":"TUR","m":5,"v":10.0},{"c":"TUR","m":6,"v":10.05},{"c":"TUR","m":10,"v":10.0},{"c":"TUR","m":15,"v":10.0},{"c":"TUR","m":20,"v":10.05},{"c":"TUR","m":21,"v":10.1},{"c":"TUR","m":22,"v":10.2},{"c":"TUR","m":23,"v":10.05},{"c":"TUR","m":24,"v":10.3},{"c":"TUR","m":25,"v":9.5},{"c":"TUR","m":26,"v":9.9},{"c":"TUR","m":28,"v":10.0},{"c":"TUR","m":32,"v":10.05},{"c":"TUR","m":36,"v":10.0},{"c":"TUR","m":40,"v":10.05},{"c":"TUR","m":45,"v":10.0},{"c":"TUR","m":50,"v":9.95},{"c":"TUR","m":55,"v":10.0},{"c":"TUR","m":60,"v":10.05},{"c":"TUR","m":65,"v":10.0},{"c":"TUR","m":70,"v":9.95},{"c":"TUR","m":75,"v":10.0},{"c":"TUR","m":80,"v":10.05},{"c":"TUR","m":85,"v":10.0},{"c":"TUR","m":90,"v":9.95},{"c":"TUR","m":95,"v":10.0},{"c":"TUR","m":100,"v":10.0},{"c":"TUR","m":105,"v":10.0},{"c":"TUR","m":106,"v":10.1},{"c":"TUR","m":107,"v":10.65},{"c":"TUR","m":108,"v":10.1},{"c":"TUR","m":110,"v":10.0},{"c":"TUR","m":114,"v":10.0},{"c":"TUR","m":116,"v":9.9},{"c":"TUR","m":117,"v":10.05},{"c":"TUR","m":118,"v":9.8},{"c":"TUR","m":119,"v":10.0},{"c":"TUR","m":121,"v":9.95},{"c":"TUR","m":122,"v":10.05},{"c":"TUR","m":124,"v":9.95},{"c":"TUR","m":126,"v":10.05},{"c":"TUR","m":128,"v":9.9},
{"c":"ECU","m":1,"v":9.0},{"c":"ECU","m":4,"v":9.0},{"c":"ECU","m":5,"v":9.05},{"c":"ECU","m":6,"v":9.3},{"c":"ECU","m":7,"v":9.05},{"c":"ECU","m":8,"v":8.95},{"c":"ECU","m":10,"v":9.0},{"c":"ECU","m":20,"v":9.0},{"c":"ECU","m":30,"v":9.05},{"c":"ECU","m":40,"v":9.0},{"c":"ECU","m":50,"v":9.0},{"c":"ECU","m":60,"v":9.05},{"c":"ECU","m":70,"v":9.0},{"c":"ECU","m":78,"v":9.0},{"c":"ECU","m":80,"v":9.05},{"c":"ECU","m":81,"v":9.2},{"c":"ECU","m":82,"v":9.05},{"c":"ECU","m":83,"v":8.8},{"c":"ECU","m":84,"v":8.85},{"c":"ECU","m":85,"v":8.45},{"c":"ECU","m":86,"v":8.8},{"c":"ECU","m":87,"v":8.9},{"c":"ECU","m":88,"v":8.55},{"c":"ECU","m":89,"v":9.0},{"c":"ECU","m":90,"v":8.9},{"c":"ECU","m":91,"v":8.4},{"c":"ECU","m":92,"v":8.8},{"c":"ECU","m":93,"v":8.7},{"c":"ECU","m":94,"v":8.45},{"c":"ECU","m":95,"v":8.7},{"c":"ECU","m":96,"v":8.7},{"c":"ECU","m":98,"v":8.8},{"c":"ECU","m":100,"v":8.85},{"c":"ECU","m":102,"v":8.9},{"c":"ECU","m":105,"v":8.95},{"c":"ECU","m":110,"v":9.0},{"c":"ECU","m":115,"v":9.0},{"c":"ECU","m":120,"v":9.0},{"c":"ECU","m":125,"v":9.0},{"c":"ECU","m":128,"v":9.0},
{"c":"INDI","m":1,"v":8.0},{"c":"INDI","m":3,"v":7.95},{"c":"INDI","m":5,"v":8.0},{"c":"INDI","m":7,"v":7.95},{"c":"INDI","m":9,"v":8.0},{"c":"INDI","m":10,"v":8.05},{"c":"INDI","m":11,"v":8.2},{"c":"INDI","m":12,"v":8.75},{"c":"INDI","m":13,"v":8.0},{"c":"INDI","m":14,"v":8.0},{"c":"INDI","m":20,"v":8.0},{"c":"INDI","m":30,"v":8.0},{"c":"INDI","m":38,"v":8.05},{"c":"INDI","m":40,"v":8.15},{"c":"INDI","m":41,"v":8.1},{"c":"INDI","m":42,"v":8.0},{"c":"INDI","m":45,"v":8.05},{"c":"INDI","m":46,"v":8.0},{"c":"INDI","m":50,"v":8.0},{"c":"INDI","m":55,"v":8.0},{"c":"INDI","m":60,"v":8.0},{"c":"INDI","m":63,"v":8.05},{"c":"INDI","m":64,"v":8.2},{"c":"INDI","m":65,"v":8.0},{"c":"INDI","m":68,"v":8.05},{"c":"INDI","m":70,"v":8.0},{"c":"INDI","m":75,"v":8.0},{"c":"INDI","m":80,"v":8.0},{"c":"INDI","m":90,"v":8.0},{"c":"INDI","m":100,"v":8.0},{"c":"INDI","m":110,"v":8.0},{"c":"INDI","m":120,"v":8.0},{"c":"INDI","m":128,"v":8.0},
{"c":"THA","m":1,"v":7.0},{"c":"THA","m":10,"v":7.0},{"c":"THA","m":20,"v":7.0},{"c":"THA","m":30,"v":7.0},{"c":"THA","m":40,"v":7.0},{"c":"THA","m":50,"v":7.0},{"c":"THA","m":60,"v":7.0},{"c":"THA","m":62,"v":7.05},{"c":"THA","m":63,"v":7.15},{"c":"THA","m":64,"v":7.05},{"c":"THA","m":66,"v":7.0},{"c":"THA","m":67,"v":7.1},{"c":"THA","m":68,"v":6.9},{"c":"THA","m":69,"v":6.8},{"c":"THA","m":70,"v":6.3},{"c":"THA","m":71,"v":6.7},{"c":"THA","m":72,"v":6.6},{"c":"THA","m":73,"v":6.8},{"c":"THA","m":75,"v":6.9},{"c":"THA","m":77,"v":6.95},{"c":"THA","m":80,"v":7.0},{"c":"THA","m":90,"v":7.0},{"c":"THA","m":100,"v":7.0},{"c":"THA","m":108,"v":7.05},{"c":"THA","m":110,"v":7.0},{"c":"THA","m":120,"v":7.0},{"c":"THA","m":128,"v":7.0},
{"c":"INDO","m":1,"v":6.0},{"c":"INDO","m":10,"v":6.0},{"c":"INDO","m":20,"v":6.0},{"c":"INDO","m":30,"v":6.0},{"c":"INDO","m":40,"v":6.0},{"c":"INDO","m":50,"v":6.0},{"c":"INDO","m":60,"v":6.0},{"c":"INDO","m":66,"v":6.0},{"c":"INDO","m":67,"v":5.9},{"c":"INDO","m":68,"v":6.0},{"c":"INDO","m":69,"v":5.8},{"c":"INDO","m":70,"v":5.85},{"c":"INDO","m":71,"v":5.4},{"c":"INDO","m":72,"v":5.7},{"c":"INDO","m":73,"v":5.65},{"c":"INDO","m":75,"v":5.8},{"c":"INDO","m":76,"v":5.9},{"c":"INDO","m":78,"v":5.75},{"c":"INDO","m":79,"v":5.55},{"c":"INDO","m":80,"v":5.85},{"c":"INDO","m":81,"v":5.9},{"c":"INDO","m":83,"v":5.95},{"c":"INDO","m":85,"v":6.0},{"c":"INDO","m":90,"v":6.0},{"c":"INDO","m":100,"v":6.0},{"c":"INDO","m":110,"v":6.0},{"c":"INDO","m":120,"v":6.0},{"c":"INDO","m":128,"v":6.0},
{"c":"BRA","m":1,"v":5.0},{"c":"BRA","m":10,"v":5.05},{"c":"BRA","m":20,"v":5.0},{"c":"BRA","m":27,"v":5.05},{"c":"BRA","m":30,"v":5.0},{"c":"BRA","m":40,"v":5.0},{"c":"BRA","m":50,"v":5.05},{"c":"BRA","m":60,"v":5.0},{"c":"BRA","m":70,"v":5.0},{"c":"BRA","m":78,"v":5.0},{"c":"BRA","m":80,"v":5.05},{"c":"BRA","m":81,"v":5.55},{"c":"BRA","m":82,"v":5.1},{"c":"BRA","m":83,"v":4.85},{"c":"BRA","m":84,"v":4.6},{"c":"BRA","m":85,"v":4.8},{"c":"BRA","m":86,"v":4.95},{"c":"BRA","m":88,"v":5.0},{"c":"BRA","m":95,"v":5.05},{"c":"BRA","m":100,"v":5.0},{"c":"BRA","m":110,"v":5.0},{"c":"BRA","m":115,"v":5.05},{"c":"BRA","m":118,"v":5.0},{"c":"BRA","m":120,"v":5.05},{"c":"BRA","m":122,"v":5.15},{"c":"BRA","m":123,"v":5.35},{"c":"BRA","m":124,"v":5.1},{"c":"BRA","m":125,"v":4.85},{"c":"BRA","m":126,"v":5.4},{"c":"BRA","m":127,"v":4.9},{"c":"BRA","m":128,"v":5.0},
{"c":"VEN","m":1,"v":4.0},{"c":"VEN","m":5,"v":4.0},{"c":"VEN","m":7,"v":4.1},{"c":"VEN","m":9,"v":4.0},{"c":"VEN","m":15,"v":4.0},{"c":"VEN","m":20,"v":4.05},{"c":"VEN","m":24,"v":4.1},{"c":"VEN","m":26,"v":3.9},{"c":"VEN","m":27,"v":3.55},{"c":"VEN","m":28,"v":3.85},{"c":"VEN","m":30,"v":3.95},{"c":"VEN","m":35,"v":4.0},{"c":"VEN","m":40,"v":4.0},{"c":"VEN","m":43,"v":4.05},{"c":"VEN","m":44,"v":4.2},{"c":"VEN","m":45,"v":4.6},{"c":"VEN","m":46,"v":4.05},{"c":"VEN","m":47,"v":4.0},{"c":"VEN","m":48,"v":4.15},{"c":"VEN","m":49,"v":4.5},{"c":"VEN","m":50,"v":4.0},{"c":"VEN","m":55,"v":4.0},{"c":"VEN","m":60,"v":4.0},{"c":"VEN","m":70,"v":4.05},{"c":"VEN","m":75,"v":3.95},{"c":"VEN","m":80,"v":4.0},{"c":"VEN","m":90,"v":4.0},{"c":"VEN","m":100,"v":4.0},{"c":"VEN","m":110,"v":4.0},{"c":"VEN","m":115,"v":4.05},{"c":"VEN","m":116,"v":4.2},{"c":"VEN","m":117,"v":4.55},{"c":"VEN","m":118,"v":3.9},{"c":"VEN","m":119,"v":3.55},{"c":"VEN","m":120,"v":4.05},{"c":"VEN","m":121,"v":4.25},{"c":"VEN","m":122,"v":4.0},{"c":"VEN","m":124,"v":3.9},{"c":"VEN","m":125,"v":3.95},{"c":"VEN","m":126,"v":3.85},{"c":"VEN","m":128,"v":3.8},
{"c":"KOR","m":1,"v":3.0},{"c":"KOR","m":10,"v":3.0},{"c":"KOR","m":20,"v":3.0},{"c":"KOR","m":30,"v":3.0},{"c":"KOR","m":40,"v":3.0},{"c":"KOR","m":50,"v":3.0},{"c":"KOR","m":60,"v":3.0},{"c":"KOR","m":66,"v":3.05},{"c":"KOR","m":67,"v":3.2},{"c":"KOR","m":68,"v":3.6},{"c":"KOR","m":69,"v":3.1},{"c":"KOR","m":70,"v":2.95},{"c":"KOR","m":71,"v":2.7},{"c":"KOR","m":72,"v":3.0},{"c":"KOR","m":73,"v":2.85},{"c":"KOR","m":74,"v":3.05},{"c":"KOR","m":75,"v":2.95},{"c":"KOR","m":76,"v":3.0},{"c":"KOR","m":78,"v":2.9},{"c":"KOR","m":80,"v":3.0},{"c":"KOR","m":90,"v":3.0},{"c":"KOR","m":100,"v":3.0},{"c":"KOR","m":110,"v":3.0},{"c":"KOR","m":120,"v":3.0},{"c":"KOR","m":128,"v":3.0},
{"c":"MEX","m":1,"v":2.0},{"c":"MEX","m":10,"v":2.0},{"c":"MEX","m":20,"v":2.0},{"c":"MEX","m":25,"v":2.05},{"c":"MEX","m":30,"v":2.0},{"c":"MEX","m":32,"v":2.05},{"c":"MEX","m":33,"v":2.35},{"c":"MEX","m":34,"v":2.0},{"c":"MEX","m":35,"v":1.95},{"c":"MEX","m":36,"v":1.5},{"c":"MEX","m":37,"v":1.9},{"c":"MEX","m":38,"v":2.0},{"c":"MEX","m":40,"v":2.05},{"c":"MEX","m":45,"v":2.0},{"c":"MEX","m":50,"v":2.0},{"c":"MEX","m":55,"v":2.0},{"c":"MEX","m":60,"v":2.0},{"c":"MEX","m":65,"v":2.0},{"c":"MEX","m":68,"v":2.05},{"c":"MEX","m":69,"v":1.85},{"c":"MEX","m":70,"v":2.1},{"c":"MEX","m":71,"v":1.9},{"c":"MEX","m":72,"v":2.0},{"c":"MEX","m":75,"v":2.0},{"c":"MEX","m":80,"v":2.0},{"c":"MEX","m":90,"v":2.0},{"c":"MEX","m":100,"v":2.0},{"c":"MEX","m":110,"v":2.0},{"c":"MEX","m":120,"v":2.0},{"c":"MEX","m":128,"v":2.0},
{"c":"MAL","m":1,"v":1.0},{"c":"MAL","m":10,"v":1.0},{"c":"MAL","m":20,"v":1.0},{"c":"MAL","m":21,"v":1.1},{"c":"MAL","m":22,"v":1.05},{"c":"MAL","m":23,"v":0.95},{"c":"MAL","m":24,"v":1.0},{"c":"MAL","m":30,"v":1.0},{"c":"MAL","m":40,"v":1.0},{"c":"MAL","m":50,"v":1.0},{"c":"MAL","m":60,"v":1.0},{"c":"MAL","m":62,"v":1.05},{"c":"MAL","m":63,"v":1.2},{"c":"MAL","m":65,"v":1.25},{"c":"MAL","m":66,"v":1.2},{"c":"MAL","m":67,"v":1.3},{"c":"MAL","m":68,"v":1.1},{"c":"MAL","m":69,"v":0.9},{"c":"MAL","m":70,"v":0.2},{"c":"MAL","m":71,"v":0.8},{"c":"MAL","m":72,"v":1.0},{"c":"MAL","m":73,"v":0.95},{"c":"MAL","m":75,"v":1.0},{"c":"MAL","m":77,"v":0.9},{"c":"MAL","m":78,"v":0.7},{"c":"MAL","m":79,"v":1.0},{"c":"MAL","m":85,"v":1.0},{"c":"MAL","m":90,"v":1.0},{"c":"MAL","m":100,"v":1.0},{"c":"MAL","m":110,"v":1.0},{"c":"MAL","m":120,"v":1.0},{"c":"MAL","m":128,"v":1.0},
{"c":"ARG","m":1,"v":0.0},{"c":"ARG","m":2,"v":-0.05},{"c":"ARG","m":3,"v":0.0},{"c":"ARG","m":10,"v":0.0},{"c":"ARG","m":20,"v":0.0},{"c":"ARG","m":30,"v":0.0},{"c":"ARG","m":40,"v":0.0},{"c":"ARG","m":50,"v":0.0},{"c":"ARG","m":60,"v":0.0},{"c":"ARG","m":70,"v":0.0},{"c":"ARG","m":80,"v":0.0},{"c":"ARG","m":90,"v":0.0},{"c":"ARG","m":100,"v":0.0},{"c":"ARG","m":110,"v":0.0},{"c":"ARG","m":116,"v":0.0},{"c":"ARG","m":117,"v":0.5},{"c":"ARG","m":118,"v":0.75},{"c":"ARG","m":119,"v":0.65},{"c":"ARG","m":120,"v":0.2},{"c":"ARG","m":121,"v":-0.2},{"c":"ARG","m":122,"v":0.2},{"c":"ARG","m":123,"v":-0.05},{"c":"ARG","m":124,"v":-0.1},{"c":"ARG","m":125,"v":-0.05},{"c":"ARG","m":126,"v":-0.15},{"c":"ARG","m":127,"v":0.0},{"c":"ARG","m":128,"v":-0.05}
]},
"layer":[
{"data":{"name":"events"},
 "mark":{"type":"rule","color":"black","strokeWidth":1,"strokeDash":[3,3]},
 "encoding":{"x":{"field":"m","type":"quantitative","scale":{"domain":[0,130],"nice":false,"zero":false},
   "axis":{"orient":"top","values":[0,25,50,75,100,125],"labels":false,"ticks":true,"tickSize":-5,"tickColor":"black","domain":false,"grid":false,"title":null}}}},
{"data":{"name":"series"},
 "mark":{"type":"line","color":"black","strokeWidth":1.2},
 "encoding":{
   "x":{"field":"m","type":"quantitative","axis":{"orient":"bottom","values":[0,25,50,75,100,125],"labelExpr":"datum.value % 50 == 0 ? datum.label : ''","tickSize":-5,"tickColor":"black","domain":false,"grid":false,"labelFontSize":31,"labelColor":"black","labelPadding":21,"labelFont":"Liberation Sans","title":"Months (starting at March 1992)","titleFontSize":33,"titleFontWeight":"normal","titleColor":"black","titleFont":"Liberation Sans","titleX":470,"titleY":77,"titleBaseline":"alphabetic","titleAlign":"center","titleAnchor":"middle"}},
   "y":{"field":"v","type":"quantitative","scale":{"domain":[-0.28,29.28],"nice":false,"zero":false},
     "axis":{"orient":"left","values":[4.68,9.59,14.54,19.46,24.41],"labels":false,"tickSize":-5,"tickColor":"black","domain":false,"grid":false,"title":null}},
   "detail":{"field":"c"}}},
{"data":{"name":"rows"},
 "mark":{"type":"text","align":"left","baseline":"middle","fontSize":16,"dx":17,"color":"black","font":"Liberation Sans"},
 "encoding":{"x":{"datum":130,"type":"quantitative","axis":null},
   "y":{"field":"r","type":"quantitative","axis":{"orient":"right","values":[4.68,9.59,14.54,19.46,24.41],"labels":false,"tickSize":-5,"tickColor":"black","domain":false,"grid":false,"title":null}},
   "text":{"field":"c"}}},
{"data":{"name":"tags"},
 "mark":{"type":"text","align":"center","baseline":"middle","fontSize":18,"color":"black","font":"Liberation Sans"},
 "encoding":{"x":{"field":"m","type":"quantitative","axis":null},"y":{"field":"h","type":"quantitative","axis":null},"text":{"field":"t"}}}
]
}
